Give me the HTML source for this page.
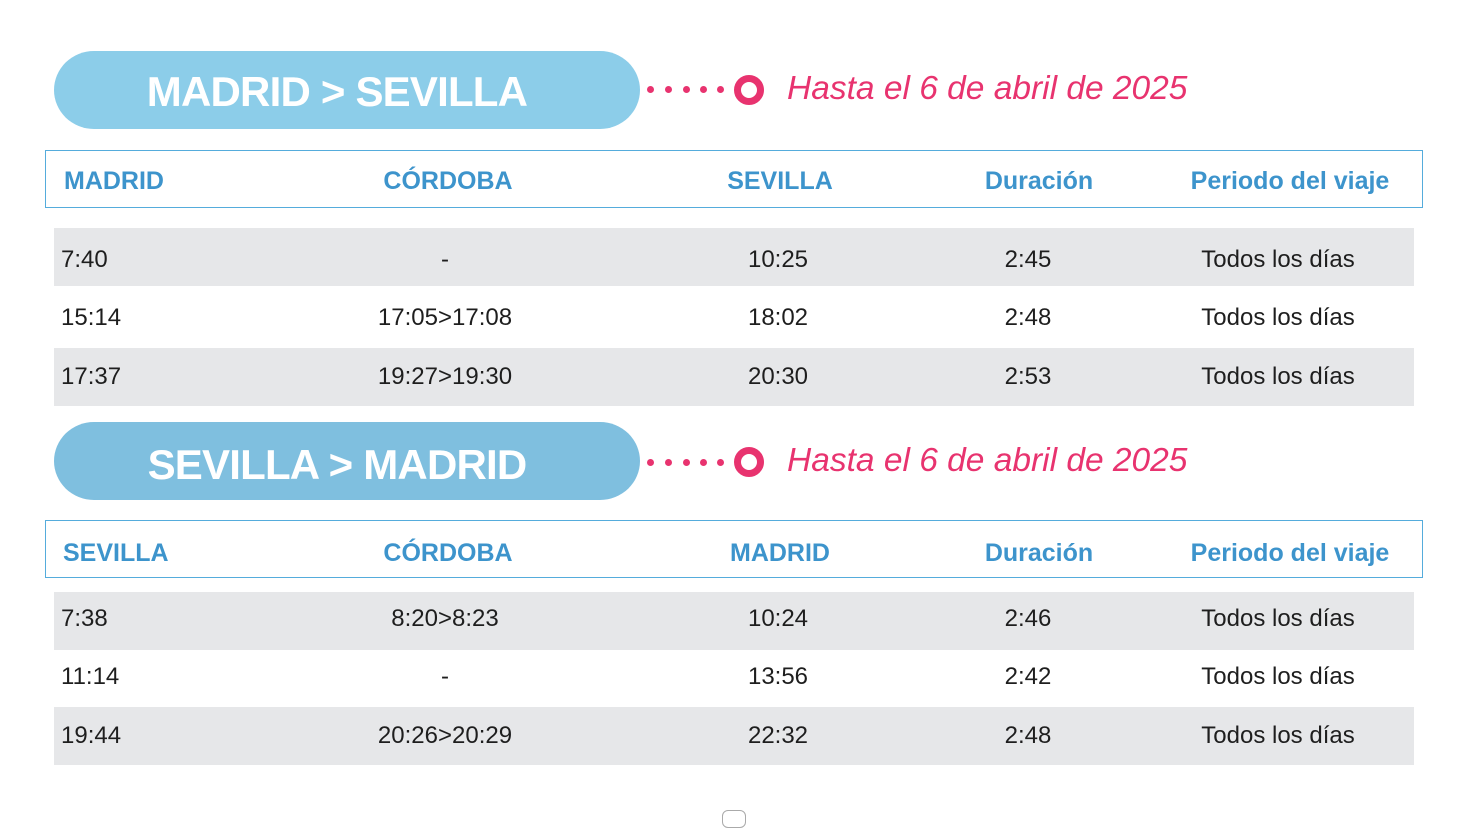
<!DOCTYPE html>
<html><head><meta charset="utf-8"><style>
html,body{margin:0;padding:0;background:#fff;}
body{width:1462px;height:816px;position:relative;overflow:hidden;font-family:"Liberation Sans",sans-serif;}
.pill{position:absolute;left:54px;width:586px;height:78px;border-radius:40px/39px;}
.pt{position:absolute;left:54px;width:566px;text-align:center;color:#fff;font-weight:bold;font-size:42px;letter-spacing:-0.8px;line-height:50px;height:50px;}
.dot{position:absolute;width:7px;height:7px;border-radius:50%;background:#e8336f;}
.ring{position:absolute;width:16px;height:16px;border:7.5px solid #e8336f;border-radius:50%;background:#fff;}
.pink{position:absolute;left:787px;color:#e8336f;font-style:italic;font-size:33.5px;line-height:40px;height:40px;white-space:nowrap;}
.hbox{position:absolute;left:45px;width:1378px;height:58px;border:1.5px solid #55acdc;box-sizing:border-box;}
.h{position:absolute;color:#3d94cc;font-weight:bold;font-size:25px;line-height:30px;height:30px;white-space:nowrap;}
.c{width:400px;text-align:center;}
.row{position:absolute;left:54px;width:1360px;background:#e6e7e9;}
.t{position:absolute;color:#1e1e1e;font-size:24px;line-height:30px;height:30px;white-space:nowrap;}
</style></head><body>

<!-- Section 1 -->
<div class="pill" style="top:51px;background:#8ccde9;"></div>
<div class="pt" style="top:67px;">MADRID &gt; SEVILLA</div>
<div class="dot" style="left:647px;top:86px;"></div>
<div class="dot" style="left:665px;top:86px;"></div>
<div class="dot" style="left:683px;top:86px;"></div>
<div class="dot" style="left:700px;top:86px;"></div>
<div class="dot" style="left:717px;top:86px;"></div>
<div class="ring" style="left:734px;top:75px;"></div>
<div class="pink" style="top:69px;">Hasta el 6 de abril de 2025</div>

<div class="hbox" style="top:150px;"></div>
<div class="h" style="left:64px;top:166px;">MADRID</div>
<div class="h c" style="left:248px;top:166px;">CÓRDOBA</div>
<div class="h c" style="left:580px;top:166px;">SEVILLA</div>
<div class="h c" style="left:839px;top:166px;">Duración</div>
<div class="h c" style="left:1090px;top:166px;">Periodo del viaje</div>

<div class="row" style="top:228px;height:58px;"></div>
<div class="row" style="top:348px;height:58px;"></div>

<div class="t" style="left:61px;top:245px;">7:40</div>
<div class="t c" style="left:245px;top:245px;">-</div>
<div class="t c" style="left:578px;top:245px;">10:25</div>
<div class="t c" style="left:828px;top:245px;">2:45</div>
<div class="t c" style="left:1078px;top:245px;">Todos los días</div>

<div class="t" style="left:61px;top:303px;">15:14</div>
<div class="t c" style="left:245px;top:303px;">17:05&gt;17:08</div>
<div class="t c" style="left:578px;top:303px;">18:02</div>
<div class="t c" style="left:828px;top:303px;">2:48</div>
<div class="t c" style="left:1078px;top:303px;">Todos los días</div>

<div class="t" style="left:61px;top:362px;">17:37</div>
<div class="t c" style="left:245px;top:362px;">19:27&gt;19:30</div>
<div class="t c" style="left:578px;top:362px;">20:30</div>
<div class="t c" style="left:828px;top:362px;">2:53</div>
<div class="t c" style="left:1078px;top:362px;">Todos los días</div>

<!-- Section 2 -->
<div class="pill" style="top:422px;background:#7fbfdf;"></div>
<div class="pt" style="top:440px;">SEVILLA &gt; MADRID</div>
<div class="dot" style="left:647px;top:459px;"></div>
<div class="dot" style="left:665px;top:459px;"></div>
<div class="dot" style="left:683px;top:459px;"></div>
<div class="dot" style="left:700px;top:459px;"></div>
<div class="dot" style="left:717px;top:459px;"></div>
<div class="ring" style="left:734px;top:447px;"></div>
<div class="pink" style="top:441px;">Hasta el 6 de abril de 2025</div>

<div class="hbox" style="top:520px;"></div>
<div class="h" style="left:63px;top:538px;">SEVILLA</div>
<div class="h c" style="left:248px;top:538px;">CÓRDOBA</div>
<div class="h c" style="left:580px;top:538px;">MADRID</div>
<div class="h c" style="left:839px;top:538px;">Duración</div>
<div class="h c" style="left:1090px;top:538px;">Periodo del viaje</div>

<div class="row" style="top:592px;height:58px;"></div>
<div class="row" style="top:707px;height:58px;"></div>

<div class="t" style="left:61px;top:604px;">7:38</div>
<div class="t c" style="left:245px;top:604px;">8:20&gt;8:23</div>
<div class="t c" style="left:578px;top:604px;">10:24</div>
<div class="t c" style="left:828px;top:604px;">2:46</div>
<div class="t c" style="left:1078px;top:604px;">Todos los días</div>

<div class="t" style="left:61px;top:662px;">11:14</div>
<div class="t c" style="left:245px;top:662px;">-</div>
<div class="t c" style="left:578px;top:662px;">13:56</div>
<div class="t c" style="left:828px;top:662px;">2:42</div>
<div class="t c" style="left:1078px;top:662px;">Todos los días</div>

<div class="t" style="left:61px;top:721px;">19:44</div>
<div class="t c" style="left:245px;top:721px;">20:26&gt;20:29</div>
<div class="t c" style="left:578px;top:721px;">22:32</div>
<div class="t c" style="left:828px;top:721px;">2:48</div>
<div class="t c" style="left:1078px;top:721px;">Todos los días</div>

<div style="position:absolute;left:722px;top:810px;width:22px;height:16px;border:1.5px solid #aaa;border-radius:6px;"></div>
</body></html>
